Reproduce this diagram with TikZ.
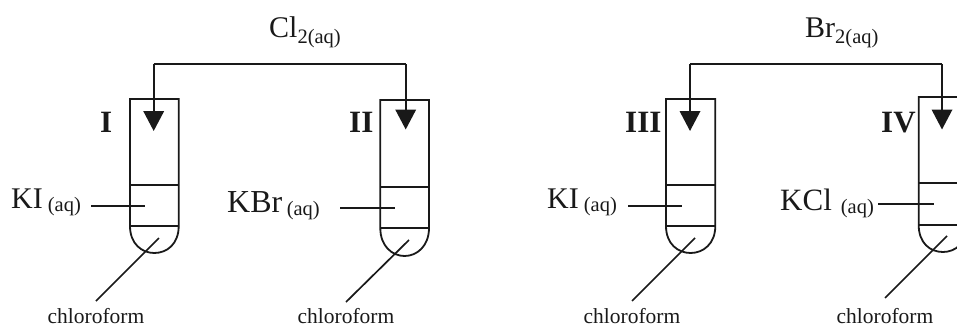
\documentclass[tikz,border=0pt]{standalone}
\usepackage{fontspec}
\setmainfont{Liberation Serif}
\usetikzlibrary{arrows.meta}
\newcommand{\lrgtxt}[2][30]{\fontsize{#1}{32}\selectfont #2}
\newcommand{\smatxt}[1]{\fontsize{20.5}{22}\selectfont #1}
\tikzset{
  x=1pt,y=-1pt,
  lbl/.style={inner sep=0pt,anchor=base west,text=black!90},
  tube/.style={draw=black!90,line width=1.8pt,line join=miter},
  feed/.style={draw=black!90,line width=2pt,-{Triangle[length=20pt,width=20.5pt]}},
  feedline/.style={draw=black!90,line width=2pt},
  pointer/.style={draw=black!90,line width=1.7pt},
  roman/.style={lbl,font=\bfseries\fontsize{31}{32}\selectfont},
  chl/.style={inner sep=0pt,text=black!90,font=\fontsize{21.5}{22}\selectfont,anchor=base},
}
\begin{document}
\begin{tikzpicture}
\useasboundingbox (0,0) rectangle (957,327);
% tubes
\draw[tube] (130,226) -- (130,99) -- (178.7,99) -- (178.7,226) .. controls (178.7,244) and (167,253) .. (154.3,253) .. controls (142,253) and (130,244) .. (130,226) -- cycle;
\draw[tube] (130,185) -- (178.7,185);
\draw[tube] (130,226) -- (178.7,226);
\draw[tube] (380.3,228) -- (380.3,100) -- (429,100) -- (429,228) .. controls (429,246) and (417,256) .. (404.6,256) .. controls (392,256) and (380.3,246) .. (380.3,228) -- cycle;
\draw[tube] (380.3,187) -- (429,187);
\draw[tube] (380.3,228) -- (429,228);
\draw[tube] (666,226) -- (666,99) -- (715.3,99) -- (715.3,226) .. controls (715.3,244) and (703,253) .. (690.6,253) .. controls (678,253) and (666,244) .. (666,226) -- cycle;
\draw[tube] (666,185) -- (715.3,185);
\draw[tube] (666,226) -- (715.3,226);
\draw[tube] (918.7,225) -- (918.7,97) -- (967.5,97) -- (967.5,225) .. controls (967.5,243) and (955,252) .. (943,252) .. controls (930,252) and (918.7,243) .. (918.7,225) -- cycle;
\draw[tube] (918.7,183) -- (967.5,183);
\draw[tube] (918.7,225) -- (967.5,225);
% connector coordinates
\coordinate (a1) at (153.7,131);
\coordinate (a2) at (405.7,129.5);
\coordinate (a3) at (690,131);
\coordinate (a4) at (942,129.5);
\coordinate (c1) at (153.7,64);
\coordinate (c2) at (405.7,64);
\coordinate (c3) at (690,64);
\coordinate (c4) at (942,64);
% feed lines
\draw[feedline] (c1) -- (c2);
\draw[feed] (c1) -- (a1);
\draw[feed] (c2) -- (a2);
\draw[feedline] (c3) -- (c4);
\draw[feed] (c3) -- (a3);
\draw[feed] (c4) -- (a4);
% labels
\node[lbl] (cl) at (269,37) {\lrgtxt{Cl}\smatxt{\raisebox{-6pt}{2(aq)}}};
\node[lbl] (br) at (805,37) {\lrgtxt{Br}\smatxt{\raisebox{-6pt}{2(aq)}}};
\node[roman] (r1) at (100,132) {I};
\node[roman] (r2) at (349,132.5) {II};
\node[roman] (r3) at (625,132) {III};
\node[roman] (r4) at (881,132.5) {IV};
\node[lbl] (k1) at (11,208) {\lrgtxt{KI}\hspace{5pt}\smatxt{\raisebox{-3pt}{(aq)}}};
\node[lbl] (k2) at (227,212) {\lrgtxt[32]{KBr}\hspace{4.5pt}\smatxt{\raisebox{-3pt}{(aq)}}};
\node[lbl] (k3) at (547,208) {\lrgtxt{KI}\hspace{5pt}\smatxt{\raisebox{-3pt}{(aq)}}};
\node[lbl] (k4) at (780,210) {\lrgtxt[31]{KCl}\hspace{9pt}\smatxt{\raisebox{-3pt}{(aq)}}};
\node[chl] (f1) at (96,323.5) {chloroform};
\node[chl] (f2) at (346,323.5) {chloroform};
\node[chl] (f3) at (632,323.5) {chloroform};
\node[chl] (f4) at (885,323.5) {chloroform};
% pointers
\coordinate (p1a) at (91,206); \coordinate (p1b) at (145,206);
\coordinate (p2a) at (340,208); \coordinate (p2b) at (395,208);
\coordinate (p3a) at (628,206); \coordinate (p3b) at (682,206);
\coordinate (p4a) at (878,204); \coordinate (p4b) at (934,204);
\coordinate (q1a) at (96,301); \coordinate (q1b) at (159,238);
\coordinate (q2a) at (346,302); \coordinate (q2b) at (409,240);
\coordinate (q3a) at (632,301); \coordinate (q3b) at (695,238);
\coordinate (q4a) at (885,298); \coordinate (q4b) at (947,236);
\foreach \n in {1,2,3,4}{
  \draw[pointer] (p\n a) -- (p\n b);
  \draw[pointer] (q\n a) -- (q\n b);
}
\end{tikzpicture}
\end{document}
